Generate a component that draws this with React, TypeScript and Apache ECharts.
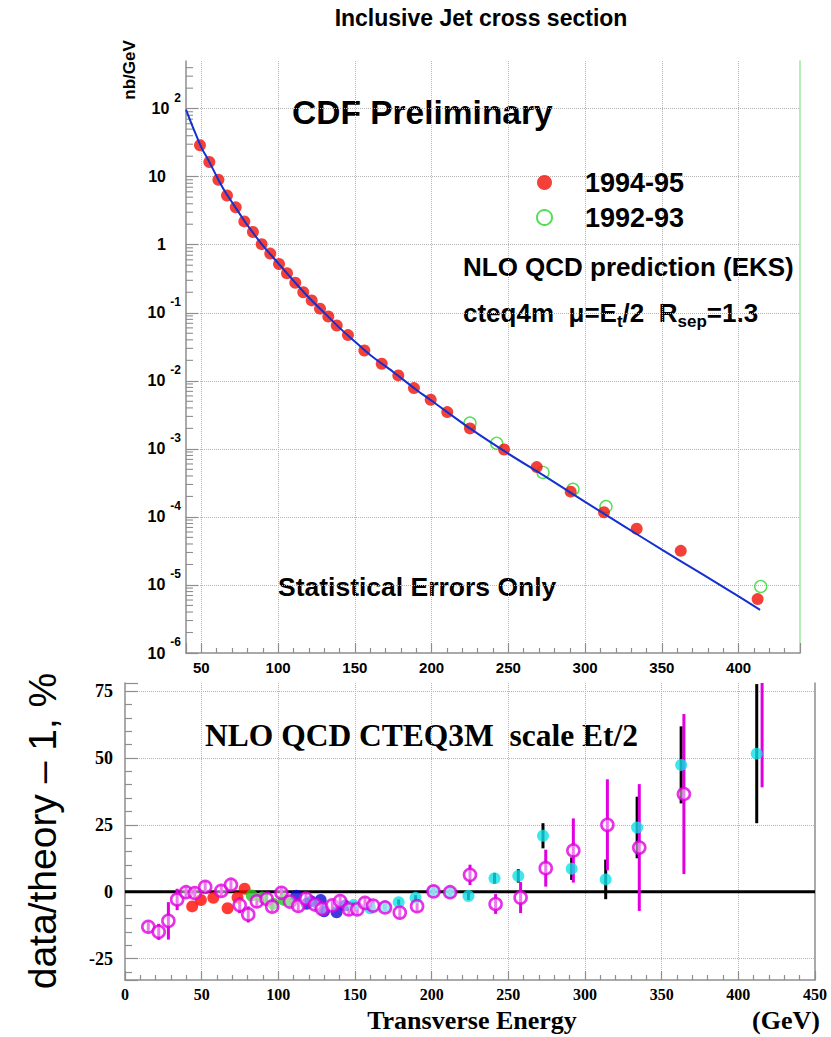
import React, { useEffect, useRef } from "react";
import * as echarts from "echarts";

const SANS = '"Liberation Sans", Arial, Helvetica, sans-serif';
const SERIF = '"Liberation Serif", "Times New Roman", Times, serif';

// ---------- Top panel: inclusive jet cross section (nb/GeV) ----------
const theoryEt = [40, 45, 50, 55, 60, 65, 70, 75, 80, 90, 100, 110, 120, 130, 140, 150, 160, 175, 190, 200, 225, 250, 275, 300, 325, 350, 375, 400, 414];
const theoryXs = [97, 50, 27, 16.8, 10.1, 6.25, 4.2, 2.84, 1.94, 0.98, 0.537, 0.297, 0.1675, 0.1005, 0.06, 0.0378, 0.024, 0.0135, 0.0074, 0.0051, 0.002, 8.5e-4, 3.8e-4, 1.66e-4, 7.4e-5, 3.3e-5, 1.5e-5, 6.8e-6, 4.3e-6];

const run1bEt = [49.1, 55.2, 61.1, 66.7, 72.4, 78, 83.6, 89.3, 94.9, 100.6, 105.8, 111.2, 116.4, 121.9, 127.3, 132.7, 138.2, 145.5, 156.2, 167.5, 178.3, 188.5, 199.4, 210.2, 225, 247.2, 268.5, 290.6, 312.3, 333.6, 362.3, 412.4];
const run1bXs = [29, 16.4, 9.0, 5.3, 3.54, 2.2, 1.54, 1.02, 0.74, 0.52, 0.38, 0.276, 0.2, 0.152, 0.115, 0.088, 0.065, 0.047, 0.0279, 0.0178, 0.012, 0.00782, 0.00526, 0.00347, 0.002, 9.8e-4, 5.4e-4, 2.35e-4, 1.17e-4, 6.7e-5, 3.17e-5, 6.2e-6];

const run1aEt = [225, 242.4, 272.6, 292.1, 313.6, 414.4];
const run1aXs = [0.0024, 0.00121, 4.5e-4, 2.55e-4, 1.42e-4, 9.5e-6];

const logDecades = [-6, -5, -4, -3, -2, -1, 0, 1, 2];
const logMantissas = [2, 3, 4, 5, 6, 7, 8, 9];

// ---------- Bottom panel: data/theory - 1 (%) ----------
const magentaEt = [15.2, 22, 28.3, 34, 39.8, 45.5, 52.3, 62.8, 69.1, 74.8, 80.4, 86, 92.4, 96, 102, 107.6, 113, 118, 123.9, 128.5, 135.2, 140.3, 146, 151.5, 156.5, 161.8, 169.6, 179.2, 190.5, 201.2, 212, 225, 241.7, 258, 274.4, 292.4, 314.6, 335.4, 364.5, 415.5];
const magentaRatio = [-13.1, -15, -10.9, -2.9, -0.2, -0.5, 1.8, 0.3, 2.6, -5, -8.5, -3.6, -2.7, -5.6, -0.4, -3.7, -5.3, -2.6, -4.8, -6.4, -5.1, -3.5, -6.6, -6.6, -4.2, -5.2, -5.9, -7.8, -5.4, 0.1, -0.2, 6.3, -4.6, -2.2, 8.8, 15.4, 25, 16.5, 36.5, 90];
const magentaErr = [2, 3, 7, 4, 2, 2, 2, 2, 2, 3, 3, 2, 2, 2, 2, 2, 2, 2, 2, 2, 2, 2, 2, 2, 2, 2, 2, 2, 2, 2, 2, 3.8, 3.7, 5.8, 6.9, 12, 17, 23.7, 29.9, 51];

const redEt = [43.8, 49.5, 57.6, 66.9, 73.4, 78];
const redRatio = [-5.5, -3.1, -2.3, -6.2, -2.2, 1.1];

const greenEt = [82.6, 89.5, 96.6, 103.5, 108.5];
const greenRatio = [-1.4, -2.2, -4.5, -3, -3.6];

const blueEt = [111.8, 118.5, 121.5, 127.6, 129.8, 138, 143.5];
const blueRatio = [-1.5, -4.5, -3.6, -3.1, -7.3, -7.7, -5.2];

const cyanEt = [149, 160, 169.5, 178.5, 189.5, 201, 212, 224, 241, 256.5, 272.6, 291.3, 313.5, 334, 362.7, 412];
const cyanRatio = [-5, -6.2, -5.6, -3.9, -2.3, 0.3, -0.3, -1.6, 5, 5.9, 20.9, 8.6, 4.6, 24, 47.4, 51.6];
const cyanErr = [1, 1, 1, 1, 1, 1, 1, 1.5, 2, 2.5, 4.7, 4.2, 7.4, 11.5, 14.4, 26];

const zeroLineEt = [0, 450];
const zeroLineVal = [0, 0];

const zip = (a: number[], b: number[]) => a.map((v, i) => [v, b[i]]);
const zip3 = (a: number[], b: number[], c: number[]) => a.map((v, i) => [v, b[i], c[i]]);

const GRID_GRAY = "#b4b4b4";
const AXIS_GRAY = "#8e8e8e";

function errorBar(color: string, width: number) {
  return (params: any, api: any) => {
    const x = api.value(0);
    const y = api.value(1);
    const e = api.value(2);
    const top = api.coord([x, y + e]);
    const bot = api.coord([x, y - e]);
    const cs = params.coordSys;
    const clamp = (v: number) => Math.max(cs.y, Math.min(cs.y + cs.height, v));
    return {
      type: "line",
      shape: { x1: top[0], y1: clamp(top[1]), x2: top[0], y2: clamp(bot[1]) },
      style: { stroke: color, lineWidth: width },
    };
  };
}

function buildOption(): any {
  const minorTicks: number[][] = [];
  logDecades.forEach((d) =>
    logMantissas.forEach((m) => {
      const v = m * Math.pow(10, d);
      if (v < 500) minorTicks.push([40, v]);
    })
  );

  const txt = (text: string, x: number, y: number, size: number, opts: any = {}) => ({
    type: "text",
    x,
    y,
    rotation: opts.rotation || 0,
    silent: true,
    style: {
      text,
      fill: "#000",
      fontFamily: opts.family || SANS,
      fontSize: size,
      fontWeight: opts.weight || "bold",
      align: opts.align || "left",
      textAlign: opts.align || "left",
      verticalAlign: "middle",
      textVerticalAlign: "middle",
      rich: opts.rich,
    },
  });

  return {
    animation: false,
    backgroundColor: "#ffffff",
    grid: [
      { left: 186, right: 31, top: 61, height: 592 },
      { left: 125, right: 16, top: 683, height: 297 },
    ],
    legend: {
      data: ["1994-95", "1992-93"],
      orient: "vertical",
      left: 531,
      top: 164,
      itemWidth: 15,
      itemHeight: 15,
      itemGap: 8,
      selectedMode: false,
      textStyle: {
        fontFamily: SANS,
        fontSize: 27,
        fontWeight: "bold",
        color: "#000",
        padding: [0, 0, 0, 28],
      },
    },
    xAxis: [
      {
        type: "value",
        gridIndex: 0,
        min: 40,
        max: 440,
        splitNumber: 8,
        minInterval: 50,
        maxInterval: 50,
        axisLine: { show: true, onZero: false, lineStyle: { color: AXIS_GRAY, width: 1.5 } },
        axisTick: { show: true, inside: true, length: 10, lineStyle: { color: AXIS_GRAY, width: 1.2 } },
        minorTick: { show: true, splitNumber: 5, length: 5, lineStyle: { color: AXIS_GRAY, width: 1.2 } },
        axisLabel: {
          showMinLabel: false,
          showMaxLabel: false,
          margin: 7,
          fontFamily: SANS,
          fontWeight: "bold",
          fontSize: 15,
          color: "#000",
        },
        splitLine: { show: true, showMinLine: false, showMaxLine: false, lineStyle: { color: GRID_GRAY, type: "dotted", width: 1 } },
      },
      {
        type: "value",
        gridIndex: 1,
        min: 0,
        max: 450,
        interval: 50,
        axisLine: { show: true, onZero: false, lineStyle: { color: AXIS_GRAY, width: 1.5 } },
        axisTick: { show: true, inside: true, length: 9, lineStyle: { color: AXIS_GRAY, width: 1.2 } },
        minorTick: { show: true, splitNumber: 5, length: 5, lineStyle: { color: AXIS_GRAY, width: 1.2 } },
        axisLabel: {
          margin: 6,
          fontFamily: SERIF,
          fontWeight: "bold",
          fontSize: 16,
          color: "#000",
        },
        splitLine: { show: true, showMinLine: false, showMaxLine: false, lineStyle: { color: GRID_GRAY, type: "dotted", width: 1 } },
      },
    ],
    yAxis: [
      {
        type: "log",
        gridIndex: 0,
        logBase: 10,
        min: 1e-6,
        max: 501.187,
        splitNumber: 10,
        axisLine: { show: true, onZero: false, lineStyle: { color: AXIS_GRAY, width: 1.5 } },
        axisTick: { show: true, inside: true, length: 12, lineStyle: { color: AXIS_GRAY, width: 1.2 } },
        axisLabel: {
          showMaxLabel: false,
          margin: 5,
          color: "#000",
          fontFamily: SANS,
          fontWeight: "bold",
          fontSize: 16,
          formatter: (v: number) => {
            const e = Math.round(Math.log10(v));
            if (e === 0) return "{p|1}";
            if (e === 1) return "{p|10}";
            return "{b|10}{s|" + e + "}";
          },
          rich: {
            p: { fontFamily: SANS, fontWeight: "bold", fontSize: 16, lineHeight: 34, padding: [0, 15, 0, 0], color: "#000" },
            b: { fontFamily: SANS, fontWeight: "bold", fontSize: 16, lineHeight: 34, color: "#000" },
            s: { fontFamily: SANS, fontWeight: "bold", fontSize: 12, lineHeight: 13, verticalAlign: "top", padding: [0, 0, 0, 5], color: "#000" },
          },
        },
        splitLine: { show: true, showMinLine: false, showMaxLine: false, lineStyle: { color: GRID_GRAY, type: "dotted", width: 1 } },
      },
      {
        type: "value",
        gridIndex: 0,
        position: "right",
        axisLine: { show: true, onZero: false, lineStyle: { color: "#9be89b", width: 1.5 } },
        axisTick: { show: false },
        axisLabel: { show: false },
        splitLine: { show: false },
      },
      {
        type: "value",
        gridIndex: 1,
        min: -33,
        max: 78,
        splitNumber: 4,
        minInterval: 25,
        maxInterval: 25,
        axisLine: { show: true, onZero: false, lineStyle: { color: AXIS_GRAY, width: 1.5 } },
        axisTick: { show: true, inside: true, length: 13, lineStyle: { color: AXIS_GRAY, width: 1.2 } },
        minorTick: { show: true, splitNumber: 5, length: 7, lineStyle: { color: AXIS_GRAY, width: 1.2 } },
        axisLabel: {
          showMinLabel: false,
          showMaxLabel: false,
          margin: 12,
          fontFamily: SERIF,
          fontWeight: "bold",
          fontSize: 18,
          color: "#000",
        },
        splitLine: { show: true, showMinLine: false, showMaxLine: false, lineStyle: { color: GRID_GRAY, type: "dotted", width: 1 } },
      },
      {
        type: "value",
        gridIndex: 1,
        position: "right",
        axisLine: { show: true, onZero: false, lineStyle: { color: AXIS_GRAY, width: 1.5 } },
        axisTick: { show: false },
        axisLabel: { show: false },
        splitLine: { show: false },
      },
    ],
    series: [
      // ---- top panel ----
      {
        type: "custom",
        xAxisIndex: 0,
        yAxisIndex: 0,
        silent: true,
        z: 1,
        data: minorTicks,
        renderItem: (params: any, api: any) => {
          const p = api.coord([api.value(0), api.value(1)]);
          return {
            type: "line",
            shape: { x1: p[0], y1: p[1], x2: p[0] + 7, y2: p[1] },
            style: { stroke: AXIS_GRAY, lineWidth: 1.1 },
          };
        },
      },
      {
        name: "1992-93",
        type: "scatter",
        xAxisIndex: 0,
        yAxisIndex: 0,
        symbol: "circle",
        symbolSize: 12,
        z: 2,
        itemStyle: { color: "rgba(255,255,255,0)", borderColor: "#2ad62a", borderWidth: 1.4 },
        data: zip(run1aEt, run1aXs),
      },
      {
        name: "1994-95",
        type: "scatter",
        xAxisIndex: 0,
        yAxisIndex: 0,
        symbol: "circle",
        symbolSize: 12,
        z: 3,
        itemStyle: { color: "#f01208" },
        data: zip(run1bEt, run1bXs),
      },
      {
        name: "NLO QCD",
        type: "line",
        xAxisIndex: 0,
        yAxisIndex: 0,
        showSymbol: false,
        symbol: "none",
        smooth: 0.3,
        z: 4,
        lineStyle: { color: "#1430d0", width: 2 },
        data: zip(theoryEt, theoryXs),
      },
      // ---- bottom panel ----
      {
        type: "line",
        xAxisIndex: 1,
        yAxisIndex: 2,
        symbol: "none",
        z: 2,
        lineStyle: { color: "#000", width: 3 },
        data: zip(zeroLineEt, zeroLineVal),
      },
      {
        type: "custom",
        xAxisIndex: 1,
        yAxisIndex: 2,
        silent: true,
        z: 3,
        renderItem: errorBar("#000", 3),
        data: zip3(cyanEt, cyanRatio, cyanErr),
      },
      {
        type: "custom",
        xAxisIndex: 1,
        yAxisIndex: 2,
        silent: true,
        z: 3,
        renderItem: errorBar("#e000e0", 3),
        data: zip3(magentaEt, magentaRatio, magentaErr),
      },
      {
        type: "scatter",
        xAxisIndex: 1,
        yAxisIndex: 2,
        symbolSize: 12,
        z: 4,
        itemStyle: { color: "#ff0a00" },
        data: zip(redEt, redRatio),
      },
      {
        type: "scatter",
        xAxisIndex: 1,
        yAxisIndex: 2,
        symbolSize: 12,
        z: 4,
        itemStyle: { color: "#22c822" },
        data: zip(greenEt, greenRatio),
      },
      {
        type: "scatter",
        xAxisIndex: 1,
        yAxisIndex: 2,
        symbolSize: 12,
        z: 4,
        itemStyle: { color: "#0a0ad8" },
        data: zip(blueEt, blueRatio),
      },
      {
        type: "scatter",
        xAxisIndex: 1,
        yAxisIndex: 2,
        symbolSize: 12,
        z: 4,
        itemStyle: { color: "#10e0e6" },
        data: zip(cyanEt, cyanRatio),
      },
      {
        type: "scatter",
        xAxisIndex: 1,
        yAxisIndex: 2,
        symbolSize: 12,
        clip: true,
        z: 5,
        itemStyle: { color: "rgba(255,255,255,0.6)", borderColor: "#e000e0", borderWidth: 2.6 },
        data: zip(magentaEt, magentaRatio),
      },
    ],
    graphic: [
      txt("Inclusive Jet cross section", 481, 18, 23, { align: "center" }),
      txt("CDF Preliminary", 292, 112, 33.5),
      txt("NLO QCD prediction (EKS)", 463, 267, 26),
      txt("{m|cteq4m  \u03bc=E}{u|t}{m|/2  R}{u|sep}{m|=1.3}", 463, 313, 26, {
        rich: {
          m: { fontFamily: SANS, fontWeight: "bold", fontSize: 26, lineHeight: 34, fill: "#000" },
          u: { fontFamily: SANS, fontWeight: "bold", fontSize: 17, lineHeight: 17, verticalAlign: "bottom", fill: "#000" },
        },
      }),
      txt("Statistical Errors Only", 278, 587, 26.5),
      txt("nb/GeV", 129, 70, 17, { align: "center", rotation: Math.PI / 2 }),
      txt("NLO QCD CTEQ3M  scale Et/2", 205, 735, 31.5, { family: SERIF }),
      txt("Transverse Energy", 472, 1020, 26, { family: SERIF, align: "center" }),
      txt("(GeV)", 786, 1020, 26, { family: SERIF, align: "center" }),
      txt("data/theory \u2013 1, %", 42, 831, 39, { weight: "normal", align: "center", rotation: Math.PI / 2 }),
    ],
  };
}

export default function App() {
  const ref = useRef<HTMLDivElement>(null);
  useEffect(() => {
    if (!ref.current) return;
    const chart = echarts.init(ref.current, undefined, { renderer: "svg" });
    chart.setOption(buildOption());
    return () => chart.dispose();
  }, []);
  return (
    <div
      ref={ref}
      style={{ position: "absolute", left: 0, top: 0, width: 831, height: 1037, background: "#fff" }}
    />
  );
}
